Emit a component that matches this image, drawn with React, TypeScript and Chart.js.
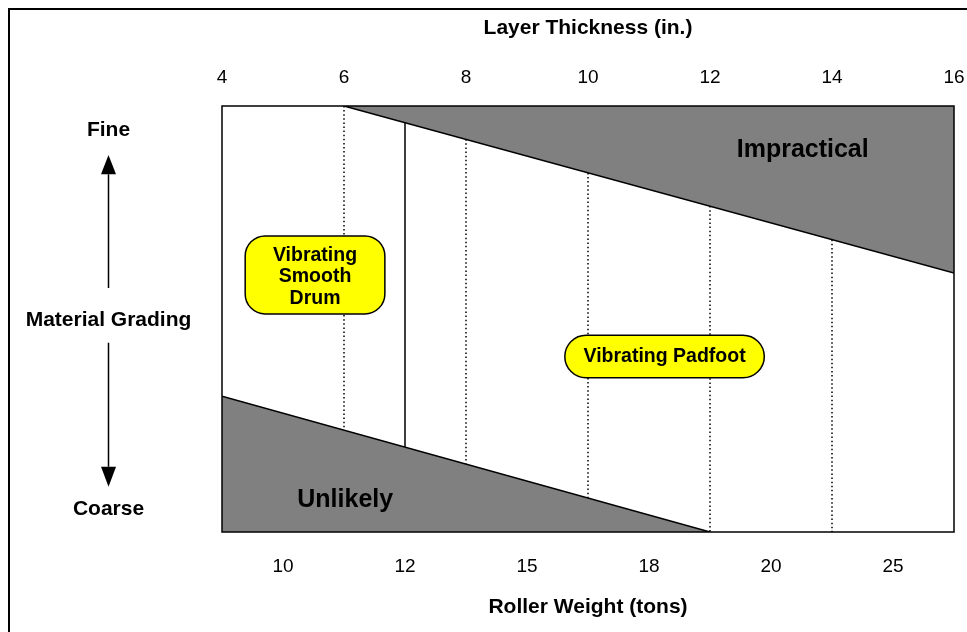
import React, { useEffect, useRef } from 'react';
import { Chart, registerables } from 'chart.js';

Chart.register(...registerables);

const FONT = "'Liberation Sans', Arial, Helvetica, sans-serif";

// Axes
const THICKNESS_MIN = 4;
const THICKNESS_MAX = 16;
const THICKNESS_STEP = 2;
const ROLLER_WEIGHTS = ['10', '12', '15', '18', '20', '25'];
// Material grading: 0 = coarse (bottom) .. 100 = fine (top)
const GRADING_MIN = 0;
const GRADING_MAX = 100;

// Boundary lines (layer thickness in., grading)
const IMPRACTICAL_X = [6, 16];
const IMPRACTICAL_Y = [100, 60.8];
const UNLIKELY_X = [4, 12];
const UNLIKELY_Y = [31.9, 0];
const DIVIDER_X = [7, 7];
const DIVIDER_Y = [96.1, 19.9];
const DOTTED_X = [6, 8, 10, 12, 14];
const DOTTED_TOP = [100, 92.2, 84.3, 76.5, 68.6];
const DOTTED_BOTTOM = [23.9, 16, 8, 0, 0];

// Region labels
const REGION_TEXT = ['Impractical', 'Unlikely'];
const REGION_X = [13.52, 6.02];
const REGION_Y = [89.7, 7.5];

// Equipment boxes
const DRUM_LINES = ['Vibrating', 'Smooth', 'Drum'];
const DRUM_BOX_X = [4.38, 6.67];
const DRUM_BOX_Y = [51.2, 69.5];
const PADFOOT_LINES = ['Vibrating Padfoot'];
const PADFOOT_BOX_X = [9.62, 12.89];
const PADFOOT_BOX_Y = [36.2, 46.2];

// Left-side grading legend
const GRADING_LABEL_X = 2.13;
const GRADING_TEXT = ['Fine', 'Material Grading', 'Coarse'];
const GRADING_TEXT_Y = [94.4, 49.8, 5.4];
const UP_ARROW_Y = [88.5, 84.0, 57.3]; // tip, head base, shaft end
const DOWN_ARROW_Y = [44.4, 15.3, 10.6]; // shaft start, head base, tip

const lineDs = (xs: number[], ys: number[], extra: any = {}) => ({
  data: xs.map((x, i) => ({ x, y: ys[i] })),
  xAxisID: 'xt',
  yAxisID: 'y',
  borderColor: '#000000',
  borderWidth: 1.5,
  pointRadius: 0,
  fill: false,
  tension: 0,
  ...extra,
});

const overlay = {
  id: 'overlay',
  afterDatasetsDraw(chart: any) {
    const { ctx, chartArea: a, scales } = chart;
    const px = (v: number) => scales.xt.getPixelForValue(v);
    const py = (v: number) => scales.y.getPixelForValue(v);
    ctx.save();

    // plot border
    ctx.strokeStyle = '#000';
    ctx.lineWidth = 1.5;
    ctx.strokeRect(a.left, a.top, a.right - a.left, a.bottom - a.top);

    // outer frame
    ctx.lineWidth = 2;
    ctx.strokeRect(9, 9, 3000, 3000);

    ctx.fillStyle = '#000';
    ctx.textAlign = 'center';
    ctx.textBaseline = 'middle';

    // region labels
    ctx.font = `bold 25px ${FONT}`;
    REGION_TEXT.forEach((t, i) => ctx.fillText(t, px(REGION_X[i]), py(REGION_Y[i])));

    // boxes
    const drawBox = (lines: string[], bx: number[], by: number[], radius: number | null, dy: number) => {
      const x0 = px(bx[0]);
      const x1 = px(bx[1]);
      const y0 = py(by[1]);
      const y1 = py(by[0]);
      const h = y1 - y0;
      const r = radius == null ? h / 2 : radius;
      ctx.beginPath();
      ctx.roundRect(x0, y0, x1 - x0, h, r);
      ctx.fillStyle = '#FFFF00';
      ctx.fill();
      ctx.lineWidth = 1.5;
      ctx.strokeStyle = '#000';
      ctx.stroke();
      ctx.fillStyle = '#000';
      ctx.font = `bold 19.5px ${FONT}`;
      const lh = 21.5;
      const cx = (x0 + x1) / 2;
      const cy = (y0 + y1) / 2 + dy;
      lines.forEach((t, i) => ctx.fillText(t, cx, cy + (i - (lines.length - 1) / 2) * lh));
    };
    drawBox(DRUM_LINES, DRUM_BOX_X, DRUM_BOX_Y, 20, 2);
    drawBox(PADFOOT_LINES, PADFOOT_BOX_X, PADFOOT_BOX_Y, null, 0);

    // grading legend
    const gx = Math.round(px(GRADING_LABEL_X)) + 0.5;
    ctx.font = `bold 21px ${FONT}`;
    GRADING_TEXT.forEach((t, i) => ctx.fillText(t, gx, py(GRADING_TEXT_Y[i])));
    ctx.lineWidth = 1.5;
    ctx.beginPath();
    ctx.moveTo(gx, py(UP_ARROW_Y[1]));
    ctx.lineTo(gx, py(UP_ARROW_Y[2]));
    ctx.moveTo(gx, py(DOWN_ARROW_Y[0]));
    ctx.lineTo(gx, py(DOWN_ARROW_Y[1]));
    ctx.stroke();
    const head = (tipY: number, baseY: number) => {
      ctx.beginPath();
      ctx.moveTo(gx, tipY);
      ctx.lineTo(gx - 7.5, baseY);
      ctx.lineTo(gx + 7.5, baseY);
      ctx.closePath();
      ctx.fill();
    };
    head(py(UP_ARROW_Y[0]), py(UP_ARROW_Y[1]));
    head(py(DOWN_ARROW_Y[2]), py(DOWN_ARROW_Y[1]));

    ctx.restore();
  },
};

export default function App() {
  const ref = useRef<HTMLCanvasElement>(null);
  useEffect(() => {
    const datasets: any[] = [
      lineDs(IMPRACTICAL_X, IMPRACTICAL_Y, { fill: 'end', backgroundColor: '#808080' }),
      lineDs(UNLIKELY_X, UNLIKELY_Y, { fill: 'start', backgroundColor: '#808080' }),
      lineDs(DIVIDER_X, DIVIDER_Y),
      ...DOTTED_X.map((x, i) =>
        lineDs([x, x], [DOTTED_TOP[i], DOTTED_BOTTOM[i]], { borderWidth: 1.5, borderDash: [1.5, 2.6] })
      ),
    ];
    const chart = new Chart(ref.current as HTMLCanvasElement, {
      type: 'line',
      data: { datasets },
      options: {
        animation: false,
        responsive: false,
        layout: { padding: { left: 222, right: 13, top: 0, bottom: 0 } },
        plugins: { legend: { display: false }, tooltip: { enabled: false } },
        scales: {
          xt: {
            type: 'linear',
            position: 'top',
            min: THICKNESS_MIN,
            max: THICKNESS_MAX,
            grid: { display: false, drawTicks: false },
            border: { display: false },
            ticks: {
              stepSize: THICKNESS_STEP,
              padding: 17,
              color: '#000',
              maxRotation: 0,
              font: { family: FONT, size: 19 },
            },
            title: {
              display: true,
              text: 'Layer Thickness (in.)',
              color: '#000',
              font: { family: FONT, size: 21, weight: 'bold' },
              padding: { top: 16, bottom: 4 },
            },
            afterFit: (s: any) => {
              s.height = 106;
              s.paddingLeft = 0;
              s.paddingRight = 0;
            },
          },
          xb: {
            type: 'category',
            position: 'bottom',
            labels: ROLLER_WEIGHTS,
            offset: true,
            grid: { display: false, drawTicks: false },
            border: { display: false },
            ticks: {
              padding: 23,
              color: '#000',
              maxRotation: 0,
              font: { family: FONT, size: 19 },
            },
            title: {
              display: true,
              text: 'Roller Weight (tons)',
              color: '#000',
              font: { family: FONT, size: 21, weight: 'bold' },
              padding: { top: 4, bottom: 12 },
            },
            afterFit: (s: any) => {
              s.height = 100;
              s.paddingLeft = 0;
              s.paddingRight = 0;
            },
          },
          y: {
            type: 'linear',
            min: GRADING_MIN,
            max: GRADING_MAX,
            display: false,
          },
        },
      } as any,
      plugins: [overlay],
    });
    return () => chart.destroy();
  }, []);
  return (
    <div style={{ position: 'absolute', left: 0, top: 0, width: 967, height: 632, background: '#fff' }}>
      <canvas ref={ref} width={967} height={632} style={{ display: 'block', width: 967, height: 632 }} />
    </div>
  );
}
